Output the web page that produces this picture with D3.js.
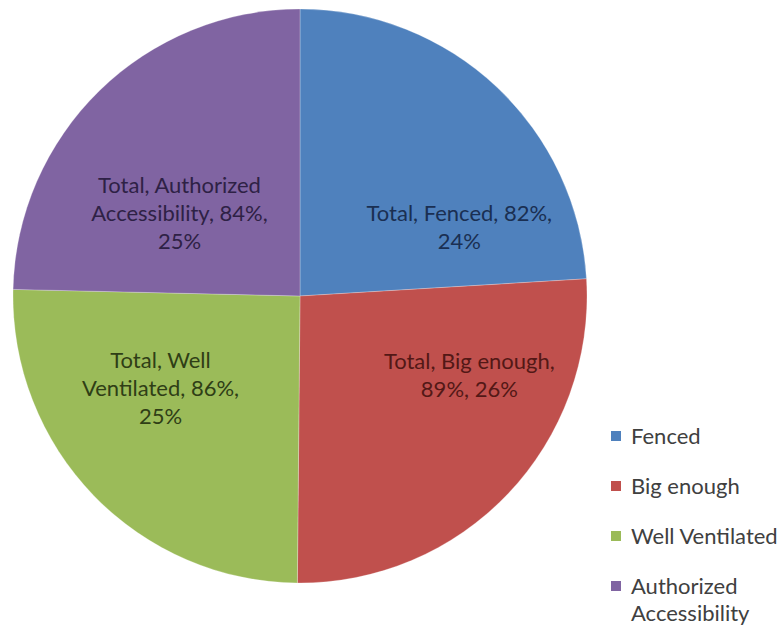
<!DOCTYPE html>
<html>
<head>
<meta charset="utf-8">
<script src="https://cdn.jsdelivr.net/npm/d3@7"></script>
<style>
  html, body { margin: 0; padding: 0; background: #ffffff; }
  svg { display: block; }
</style>
</head>
<body>
<svg id="chart" width="782" height="628"></svg>
<script>
// ---- data ----
const categories = ["Fenced", "Big enough", "Well Ventilated", "Authorized Accessibility"];
const values = [82, 89, 86, 84];            // percent "Total" values
const shares = ["24%", "26%", "25%", "25%"]; // share of pie as labelled
const seriesName = "Total";

// ---- styles / layout ----
const colors = ["#4F81BD", "#C0504D", "#9BBB59", "#8064A2"];
const labelColors = ["#1a2f52", "#531816", "#2f3e16", "#2e2145"];
const labelLines = [
  [seriesName + ", Fenced, " + values[0] + "%,", shares[0]],
  [seriesName + ", Big enough,", values[1] + "%, " + shares[1]],
  [seriesName + ", Well", "Ventilated, " + values[2] + "%,", shares[2]],
  [seriesName + ", Authorized", "Accessibility, " + values[3] + "%,", shares[3]]
];
// label block centre offsets as fractions of radius
const labelOffsets = [[0.555, -0.24], [0.59, 0.278], [-0.486, 0.32], [-0.42, -0.288]];

const W = 782, H = 628;
const cx = 300, cy = 296, R = 287;
const font = "Lato, 'Open Sans', sans-serif";
const fontSize = 22, lineH = 28;

const svg = d3.select("#chart");
const g = svg.append("g").attr("transform", `translate(${cx},${cy})`);

const pie = d3.pie().sort(null).value(d => d.v);
const arcs = pie(categories.map((c, i) => ({ c, v: values[i], i })));
const arc = d3.arc().innerRadius(0).outerRadius(R);

g.selectAll("path.slice")
  .data(arcs)
  .enter().append("path")
  .attr("class", "slice")
  .attr("d", arc)
  .attr("fill", d => colors[d.data.i])
  .attr("stroke", "#ffffff")
  .attr("stroke-opacity", 0.25)
  .attr("stroke-width", 1);

const labels = g.selectAll("text.lbl")
  .data(arcs)
  .enter().append("text")
  .attr("class", "lbl")
  .attr("text-anchor", "middle")
  .attr("font-family", font)
  .attr("font-size", fontSize)
  .attr("fill", d => labelColors[d.data.i])
  .attr("transform", d => {
    const o = labelOffsets[d.data.i];
    return `translate(${o[0] * R},${o[1] * R})`;
  });

labels.each(function(d) {
  const lines = labelLines[d.data.i];
  const n = lines.length;
  const t = d3.select(this);
  lines.forEach((ln, k) => {
    t.append("tspan")
      .attr("x", 0)
      .attr("y", (k - (n - 1) / 2) * lineH)
      .attr("dy", "0.35em")
      .text(ln);
  });
});

// ---- legend ----
const legendX = 611, legendY0 = 436, legendStep = 50;
const legendLines = [["Fenced"], ["Big enough"], ["Well Ventilated"], ["Authorized", "Accessibility"]];
const leg = svg.append("g");
categories.forEach((c, i) => {
  const y = legendY0 + i * legendStep;
  leg.append("rect")
    .attr("x", legendX).attr("y", y - 5)
    .attr("width", 10).attr("height", 10)
    .attr("fill", colors[i]);
  const t = leg.append("text")
    .attr("font-family", font)
    .attr("font-size", fontSize)
    .attr("fill", "#404040");
  legendLines[i].forEach((ln, k) => {
    t.append("tspan")
      .attr("x", legendX + 20)
      .attr("y", y + k * 27)
      .attr("dy", "0.35em")
      .text(ln);
  });
});
</script>
</body>
</html>
